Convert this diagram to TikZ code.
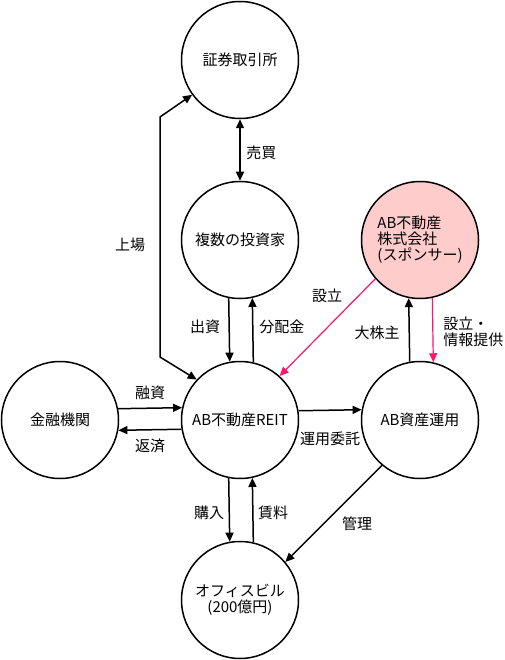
\documentclass[tikz,border=0pt]{standalone}
\usepackage{fontspec}
\setmainfont{Noto Sans CJK JP}
\usetikzlibrary{arrows.meta}
\definecolor{sponsorfill}{RGB}{255,204,204}
\definecolor{pinkline}{RGB}{255,20,110}
\tikzset{every picture/.style={line width=0.75pt}}
\tikzset{
  ent/.style={circle, draw, line width=1.5, minimum size=117pt, inner sep=0pt, align=center, font=\fontsize{15}{16}\selectfont},
  lbl/.style={inner sep=0pt, font=\fontsize{15}{16}\selectfont},
  flow/.style={line width=1.5, -{Triangle[length=9pt,width=8pt]}},
  flowboth/.style={line width=1.5, {Triangle[length=9pt,width=8pt]}-{Triangle[length=9pt,width=8pt]}},
  pinkflow/.style={draw=pinkline, line width=1.2, -{Triangle[length=9pt,width=8pt]}, color=pinkline}
}

\begin{document}
\begin{tikzpicture}[x=1pt,y=1pt,yscale=-1,xscale=1]
\useasboundingbox (0,0) rectangle (505,660);

%Shape: Circle
\node [ent] (exch) at (240,60) {証券取引所};
%Shape: Circle
\node [ent] (inv) at (240,240) {複数の投資家};
%Shape: Circle
\node [ent, fill=sponsorfill, align=left] (spon) at (420,240) {AB不動産\\株式会社\\(スポンサー)};
%Shape: Circle
\node [ent] (bank) at (60,420) {金融機関};
%Shape: Circle
\node [ent] (reit) at (240,420) {AB不動産REIT};
%Shape: Circle
\node [ent] (am) at (420,420) {AB資産運用};
%Shape: Circle
\node [ent] (bldg) at (240,600) {オフィスビル\\(200億円)};

%Straight Lines (listing)
\coordinate (lstA) at (160,357);
\coordinate (lstB) at (160,117);
\draw [flowboth] (reit.137) -- (lstA) -- (lstB) -- (exch.216);
%Straight Lines
\draw [flowboth] (exch.south) -- (inv.north);
%Straight Lines
\draw [flow] (inv.259.4) -- (reit.100.6);
%Straight Lines
\draw [flow] (reit.77.5) -- (inv.282.5);
%Straight Lines
\draw [pinkflow] (spon.221) -- (reit.48);
%Straight Lines
\draw [flow] (am.100.6) -- (spon.259.4);
%Straight Lines
\draw [pinkflow] (spon.282.5) -- (am.77.5);
%Straight Lines
\draw [flow] (bank.11.5) -- (reit.168.5);
%Straight Lines
\draw [flow] (reit.189.6) -- (bank.350.4);
%Straight Lines
\draw [flow] (reit.9.6) -- (am.170.4);
%Straight Lines
\draw [flow] (reit.259.4) -- (bldg.100.6);
%Straight Lines
\draw [flow] (bldg.77.5) -- (reit.282.5);
%Straight Lines
\draw [flow] (am.230) -- (bldg.40);

% Text Node
\node [lbl] (tListing) at (130,245) {上場};
% Text Node
\node [lbl, anchor=west] (tTrade) at (246,153) {売買};
% Text Node
\node [lbl] (tInvest) at (205,327) {出資};
% Text Node
\node [lbl, anchor=west] (tDist) at (259,327) {分配金};
% Text Node
\node [lbl] (tFound) at (327,296) {設立};
% Text Node
\node [lbl] (tHolder) at (377,333) {大株主};
% Text Node
\node [lbl, anchor=west, align=left] (tInfo) at (443,332) {設立・\\情報提供};
% Text Node
\node [lbl] (tLoan) at (150,393) {融資};
% Text Node
\node [lbl] (tRepay) at (150,446) {返済};
% Text Node
\node [lbl] (tEntrust) at (330,439) {運用委託};
% Text Node
\node [lbl] (tBuy) at (209,513) {購入};
% Text Node
\node [lbl] (tRent) at (273,513) {賃料};
% Text Node
\node [lbl] (tManage) at (357,524) {管理};

\end{tikzpicture}
\end{document}
